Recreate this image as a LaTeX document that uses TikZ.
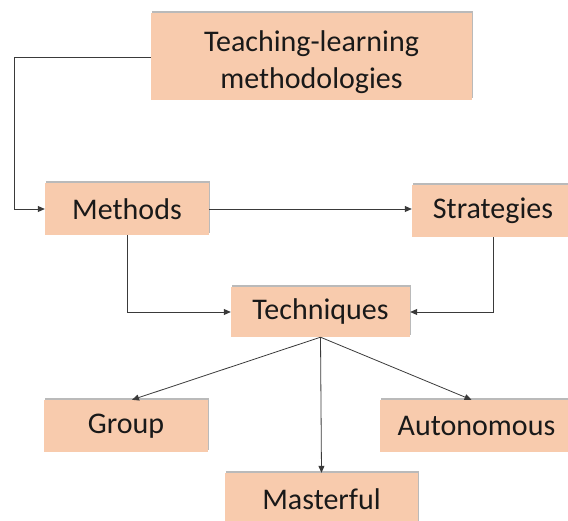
\documentclass[tikz,border=0pt]{standalone}
\usepackage{fontspec}
\setmainfont{Carlito}
\usetikzlibrary{arrows.meta,shadows}
\definecolor{boxfill}{HTML}{F8CBAD}
\definecolor{linegray}{HTML}{3A3A3A}
\tikzset{
  box/.style={fill=boxfill, draw=none, inner sep=0pt, align=center,
    font=\fontsize{30}{37}\selectfont, text=black!90,
    drop shadow={shadow xshift=1pt, shadow yshift=2pt, fill=black!45, opacity=0.6}},
  caption/.style={inner sep=0pt, align=center, font=\fontsize{30}{37}\selectfont, text=black!90},
  link/.style={draw=linegray, line width=0.8pt, -{Triangle[length=7pt,width=6pt]}}
}
\begin{document}
\begin{tikzpicture}[x=1pt,y=-1pt]
  \path[use as bounding box] (0,0) rectangle (568,521);
  \begin{scope}
    \clip (0,0) rectangle (568,521);
    \node[box, minimum width=321pt, minimum height=87pt] (top) at (311.5,56.5) {};
    \node[caption] (toptext) at ([yshift=-6pt]top.center) {Teaching-learning\\methodologies};
    \node[box, minimum width=164pt, minimum height=52pt] (methods) at (127,209) {Methods};
    \node[box, minimum width=162pt, minimum height=52pt] (strategies) at (493,211) {Strategies};
    \node[box, minimum width=179pt, minimum height=50pt] (techniques) at (320.5,312) {Techniques};
    \node[box, minimum width=164pt, minimum height=52pt] (group) at (126,426) {Group};
    \node[box, minimum width=193pt, minimum height=52pt] (autonomous) at (476.5,426) {Autonomous};
    \node[box, minimum width=193pt, minimum height=52pt] (masterful) at (321.5,499) {Masterful};
  \end{scope}
  \coordinate (bend) at (14,57);
  \draw[link] (top.west |- 0,57) -- (bend) |- (methods.west);
  \draw[link] (methods.east) -- (methods.east -| strategies.west);
  \draw[link] (methods.south) |- (techniques.west);
  \draw[link] (strategies.south) |- (techniques.east);
  \draw[link] (techniques.south) -- ([xshift=6pt]group.north);
  \draw[link] (techniques.south) -- ([xshift=-5pt]autonomous.north);
  \draw[link] (techniques.south) -- (masterful.north);
\end{tikzpicture}
\end{document}
